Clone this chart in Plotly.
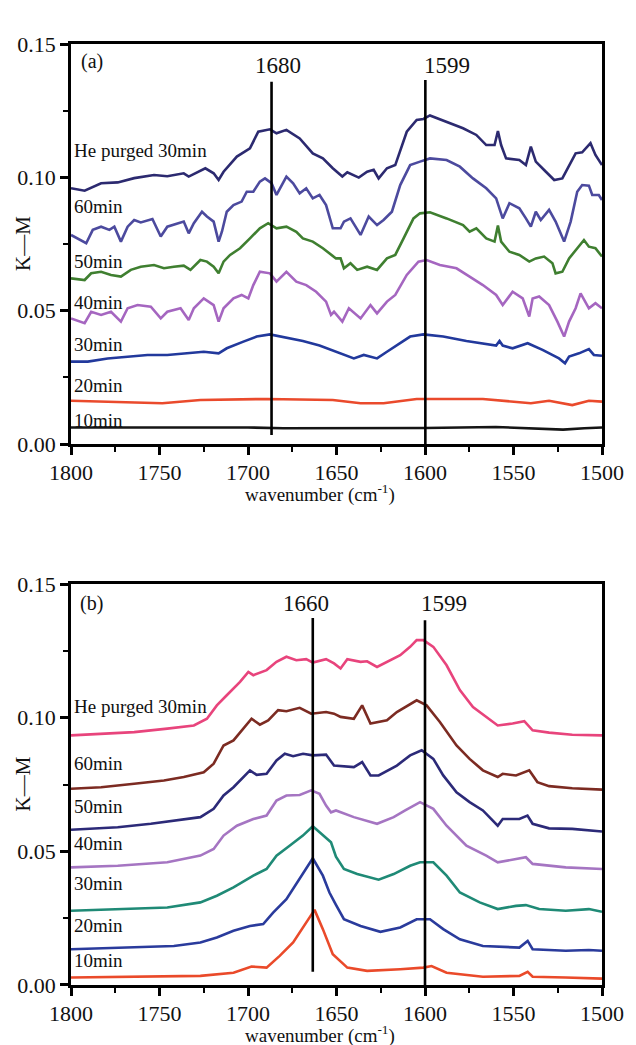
import plotly.graph_objects as go
from plotly.subplots import make_subplots

# ---------------- Panel (a) data ----------------
a_he_w = [1800, 1792.3, 1783.0, 1773.6, 1764.3, 1753.1, 1745.6, 1736.3, 1733.5, 1724.1, 1719.4, 1716.6, 1713.8,
          1706.3, 1698.9, 1694.2, 1687.6, 1683.9, 1678.3, 1670.8, 1663.4, 1657.7, 1652.1, 1646.7, 1643.9, 1637.4,
          1632.7, 1629.0, 1626.2, 1621.5, 1616.8, 1610.3, 1604.7, 1600.9, 1597.2, 1587.8, 1578.5, 1571.0, 1565.4,
          1560.7, 1558.8, 1557.0, 1554.2, 1546.7, 1543.0, 1540.2, 1537.4, 1531.7, 1527.0, 1522.4, 1518.6, 1514.9,
          1511.2, 1506.5, 1503.7, 1500.0]
a_he_k = [0.0959, 0.0950, 0.0978, 0.0981, 0.0997, 0.1009, 0.1004, 0.1015, 0.1003, 0.1034, 0.1015, 0.0990, 0.1021,
          0.1078, 0.1109, 0.1171, 0.1180, 0.1165, 0.1178, 0.1146, 0.1090, 0.1071, 0.1034, 0.1003, 0.1019, 0.0999,
          0.1021, 0.1028, 0.0996, 0.1034, 0.1046, 0.1171, 0.1215, 0.1219, 0.1232, 0.1209, 0.1184, 0.1159, 0.1121,
          0.1121, 0.1174, 0.1121, 0.1071, 0.1065, 0.1046, 0.1115, 0.1059, 0.1021, 0.0990, 0.0996, 0.1046, 0.1090,
          0.1094, 0.1128, 0.1084, 0.1046]

a_60_w = [1800, 1791.4, 1787.7, 1783.0, 1778.3, 1775.5, 1771.8, 1768.0, 1764.3, 1760.6, 1754.0, 1749.3, 1745.6,
          1740.0, 1736.3, 1733.5, 1730.6, 1726.0, 1723.2, 1719.4, 1716.6, 1714.7, 1712.0, 1708.2, 1703.6, 1700.7,
          1697.0, 1693.3, 1690.4, 1686.7, 1683.9, 1678.3, 1674.5, 1670.8, 1667.1, 1663.4, 1659.6, 1655.9, 1652.1,
          1647.7, 1645.8, 1642.1, 1636.4, 1631.8, 1627.1, 1623.4, 1618.7, 1614.0, 1608.4, 1602.8, 1597.2, 1587.8,
          1580.3, 1572.9, 1565.4, 1559.8, 1556.1, 1552.3, 1546.7, 1543.0, 1540.2, 1537.4, 1534.6, 1529.9, 1526.2,
          1521.4, 1517.7, 1514.0, 1511.2, 1507.4, 1505.5, 1501.8, 1500.0]
a_60_k = [0.0784, 0.0753, 0.0803, 0.0815, 0.0803, 0.0815, 0.0759, 0.0815, 0.0840, 0.0831, 0.0844, 0.0778, 0.0815,
          0.0828, 0.0834, 0.0790, 0.0828, 0.0871, 0.0853, 0.0834, 0.0759, 0.0797, 0.0871, 0.0896, 0.0909, 0.0946,
          0.0946, 0.0984, 0.0996, 0.0978, 0.0934, 0.1003, 0.0978, 0.0940, 0.0959, 0.0921, 0.0934, 0.0896, 0.0809,
          0.0809, 0.0834, 0.0846, 0.0784, 0.0853, 0.0821, 0.0840, 0.0871, 0.0971, 0.1046, 0.1059, 0.1071, 0.1065,
          0.1040, 0.0996, 0.0959, 0.0921, 0.0846, 0.0903, 0.0884, 0.0846, 0.0815, 0.0871, 0.0840, 0.0878, 0.0834,
          0.0759, 0.0834, 0.0946, 0.0971, 0.0969, 0.0934, 0.0934, 0.0915]

a_50_w = [1800, 1792.3, 1788.6, 1783.0, 1777.4, 1771.8, 1766.2, 1760.6, 1753.1, 1747.5, 1741.9, 1736.3, 1732.5,
          1726.9, 1723.2, 1719.4, 1716.6, 1713.8, 1710.1, 1704.5, 1698.9, 1693.3, 1688.6, 1683.9, 1678.3, 1672.7,
          1669.0, 1663.4, 1657.7, 1650.3, 1647.7, 1645.8, 1642.1, 1638.3, 1632.7, 1627.1, 1621.5, 1616.8, 1612.1,
          1606.5, 1602.8, 1597.2, 1587.8, 1578.5, 1574.8, 1571.0, 1565.4, 1560.7, 1558.8, 1557.0, 1552.3, 1546.7,
          1541.1, 1537.4, 1532.7, 1528.0, 1526.2, 1522.4, 1518.6, 1514.0, 1510.2, 1507.4, 1503.7, 1500.0]
a_50_k = [0.0621, 0.0615, 0.0640, 0.0646, 0.0634, 0.0628, 0.0653, 0.0665, 0.0671, 0.0659, 0.0665, 0.0669, 0.0653,
          0.0690, 0.0684, 0.0665, 0.0640, 0.0684, 0.0709, 0.0734, 0.0771, 0.0809, 0.0828, 0.0809, 0.0815, 0.0796,
          0.0771, 0.0759, 0.0734, 0.0696, 0.0696, 0.0659, 0.0678, 0.0653, 0.0665, 0.0653, 0.0696, 0.0709, 0.0771,
          0.0846, 0.0865, 0.0869, 0.0846, 0.0821, 0.0796, 0.0809, 0.0771, 0.0759, 0.0819, 0.0759, 0.0721, 0.0709,
          0.0684, 0.0696, 0.0703, 0.0678, 0.0640, 0.0646, 0.0696, 0.0734, 0.0765, 0.0740, 0.0734, 0.0703]

a_40_w = [1800, 1792.3, 1788.6, 1783.0, 1777.4, 1771.8, 1768.0, 1762.4, 1754.9, 1749.3, 1745.6, 1738.1, 1733.5,
          1730.6, 1725.0, 1719.4, 1716.6, 1713.8, 1708.2, 1703.6, 1699.8, 1697.0, 1693.3, 1687.6, 1683.9, 1678.3,
          1672.7, 1667.1, 1661.5, 1655.9, 1653.1, 1651.4, 1646.7, 1643.0, 1636.4, 1630.8, 1627.1, 1621.5, 1616.8,
          1610.3, 1603.7, 1599.1, 1591.6, 1582.2, 1574.8, 1567.3, 1559.8, 1556.1, 1550.5, 1544.8, 1541.1, 1539.2,
          1535.5, 1529.9, 1525.2, 1521.4, 1518.6, 1514.9, 1512.1, 1507.4, 1503.7, 1500.0]
a_40_k = [0.0471, 0.0453, 0.0496, 0.0484, 0.0496, 0.0459, 0.0509, 0.0521, 0.0515, 0.0471, 0.0496, 0.0509, 0.0465,
          0.0509, 0.0546, 0.0521, 0.0459, 0.0509, 0.0546, 0.0559, 0.0546, 0.0596, 0.0646, 0.0640, 0.0609, 0.0646,
          0.0609, 0.0596, 0.0571, 0.0534, 0.0484, 0.0496, 0.0459, 0.0509, 0.0471, 0.0521, 0.0490, 0.0534, 0.0559,
          0.0634, 0.0684, 0.0690, 0.0671, 0.0659, 0.0628, 0.0596, 0.0559, 0.0521, 0.0571, 0.0546, 0.0478, 0.0546,
          0.0553, 0.0521, 0.0459, 0.0403, 0.0459, 0.0509, 0.0565, 0.0509, 0.0528, 0.0509]

a_30_w = [1800, 1790.5, 1779.3, 1768.0, 1756.8, 1745.6, 1734.4, 1725.0, 1716.6, 1712.0, 1702.6, 1695.1, 1687.6,
          1678.3, 1669.0, 1659.6, 1652.1, 1645.8, 1640.2, 1634.6, 1627.1, 1621.5, 1615.9, 1608.4, 1600.9, 1589.7,
          1576.6, 1563.5, 1559.8, 1557.9, 1556.1, 1550.5, 1542.0, 1533.6, 1524.3, 1520.9, 1518.6, 1513.0, 1507.4,
          1504.6, 1500.0]
a_30_k = [0.0309, 0.0309, 0.0321, 0.0328, 0.0334, 0.0334, 0.0340, 0.0346, 0.0340, 0.0359, 0.0384, 0.0403, 0.0411,
          0.0399, 0.0386, 0.0369, 0.0350, 0.0336, 0.0321, 0.0334, 0.0321, 0.0346, 0.0371, 0.0403, 0.0411, 0.0403,
          0.0386, 0.0371, 0.0369, 0.0386, 0.0369, 0.0359, 0.0378, 0.0353, 0.0321, 0.0303, 0.0328, 0.0340, 0.0356,
          0.0334, 0.0331]

a_20_w = [1800, 1771.8, 1748.4, 1726.9, 1689.5, 1652.1, 1636.4, 1623.4, 1604.7, 1567.3, 1540.2, 1529.9, 1516.8,
          1507.4, 1500.0]
a_20_k = [0.0162, 0.0157, 0.0153, 0.0165, 0.0169, 0.0165, 0.0153, 0.0153, 0.0169, 0.0169, 0.0153, 0.0162, 0.0146,
          0.0162, 0.0159]

a_10_w = [1800, 1700, 1680, 1640, 1600, 1560, 1540, 1522, 1510, 1500]
a_10_k = [0.0062, 0.0062, 0.0059, 0.0059, 0.0060, 0.0064, 0.0060, 0.0054, 0.0059, 0.0062]

# ---------------- Panel (b) data ----------------
b_he_w = [1800, 1783.0, 1764.3, 1745.6, 1730.6, 1723.2, 1717.6, 1712.0, 1704.5, 1699.8, 1697.0, 1689.5, 1683.9,
          1678.3, 1672.7, 1667.1, 1663.4, 1655.9, 1651.4, 1647.7, 1643.9, 1636.4, 1632.7, 1627.1, 1621.5, 1614.0,
          1608.4, 1604.7, 1600.9, 1595.3, 1587.8, 1580.3, 1572.9, 1565.4, 1558.9, 1550.5, 1543.9, 1539.2, 1529.9,
          1516.8, 1500.0]
b_he_k = [0.0934, 0.0940, 0.0946, 0.0959, 0.0971, 0.0996, 0.1046, 0.1084, 0.1134, 0.1171, 0.1159, 0.1178, 0.1209,
          0.1228, 0.1215, 0.1219, 0.1206, 0.1219, 0.1203, 0.1184, 0.1219, 0.1209, 0.1211, 0.1190, 0.1209, 0.1234,
          0.1265, 0.1290, 0.1290, 0.1265, 0.1196, 0.1103, 0.1040, 0.1003, 0.0971, 0.0978, 0.0987, 0.0953, 0.0944,
          0.0936, 0.0934]

b_60_w = [1800, 1783.0, 1764.3, 1747.5, 1736.3, 1725.0, 1719.4, 1713.8, 1708.2, 1702.6, 1698.0, 1693.3, 1688.6,
          1683.0, 1678.3, 1670.8, 1664.3, 1655.9, 1651.4, 1647.7, 1640.2, 1635.5, 1630.8, 1621.5, 1615.9, 1604.7,
          1599.1, 1591.6, 1582.2, 1574.8, 1567.3, 1558.9, 1556.1, 1548.6, 1541.1, 1536.5, 1529.9, 1516.8, 1500.0]
b_60_k = [0.0734, 0.0740, 0.0753, 0.0765, 0.0778, 0.0796, 0.0828, 0.0896, 0.0915, 0.0959, 0.0996, 0.0974, 0.0990,
          0.1028, 0.1024, 0.1037, 0.1015, 0.1021, 0.1015, 0.1003, 0.0996, 0.1046, 0.0978, 0.0990, 0.1021, 0.1065,
          0.1046, 0.0984, 0.0896, 0.0846, 0.0803, 0.0778, 0.0790, 0.0784, 0.0803, 0.0759, 0.0744, 0.0736, 0.0731]

b_50_w = [1800, 1773.6, 1754.9, 1726.9, 1719.4, 1713.8, 1708.2, 1698.9, 1695.1, 1689.5, 1683.9, 1679.2, 1674.5,
          1668.9, 1663.4, 1655.9, 1651.4, 1640.2, 1635.5, 1630.8, 1626.2, 1615.9, 1608.4, 1601.9, 1595.3, 1589.7,
          1582.2, 1574.8, 1567.3, 1558.9, 1556.1, 1546.7, 1542.1, 1539.2, 1529.9, 1516.8, 1500.0]
b_50_k = [0.0581, 0.0590, 0.0603, 0.0628, 0.0659, 0.0709, 0.0740, 0.0803, 0.0786, 0.0790, 0.0840, 0.0865, 0.0856,
          0.0865, 0.0859, 0.0862, 0.0821, 0.0815, 0.0834, 0.0784, 0.0784, 0.0821, 0.0859, 0.0878, 0.0846, 0.0784,
          0.0721, 0.0684, 0.0653, 0.0596, 0.0621, 0.0621, 0.0634, 0.0603, 0.0586, 0.0584, 0.0574]

b_40_w = [1800, 1773.6, 1745.6, 1726.9, 1719.4, 1713.8, 1706.3, 1697.0, 1689.5, 1683.9, 1678.3, 1670.8, 1664.3,
          1659.6, 1655.9, 1653.1, 1650.3, 1640.2, 1627.1, 1617.7, 1611.2, 1602.8, 1595.3, 1587.8, 1576.6, 1565.4,
          1558.9, 1548.6, 1543.0, 1539.2, 1520.5, 1500.0]
b_40_k = [0.0440, 0.0446, 0.0459, 0.0484, 0.0509, 0.0559, 0.0596, 0.0621, 0.0634, 0.0690, 0.0709, 0.0711, 0.0728,
          0.0715, 0.0671, 0.0646, 0.0653, 0.0628, 0.0603, 0.0628, 0.0653, 0.0684, 0.0659, 0.0596, 0.0521, 0.0484,
          0.0459, 0.0471, 0.0478, 0.0453, 0.0440, 0.0434]

b_30_w = [1800, 1773.6, 1745.6, 1726.9, 1717.6, 1708.2, 1697.0, 1689.5, 1683.9, 1676.5, 1669.0, 1663.4, 1657.7,
          1653.1, 1650.3, 1645.8, 1638.3, 1626.2, 1617.7, 1608.4, 1602.8, 1595.3, 1587.8, 1580.3, 1569.1, 1558.9,
          1548.6, 1543.0, 1535.5, 1520.5, 1507.4, 1500.0]
b_30_k = [0.0278, 0.0284, 0.0290, 0.0309, 0.0334, 0.0365, 0.0409, 0.0434, 0.0484, 0.0521, 0.0559, 0.0594, 0.0559,
          0.0534, 0.0480, 0.0434, 0.0415, 0.0394, 0.0415, 0.0446, 0.0459, 0.0459, 0.0409, 0.0346, 0.0309, 0.0284,
          0.0296, 0.0299, 0.0284, 0.0278, 0.0284, 0.0274]

b_20_w = [1800, 1764.3, 1741.9, 1726.9, 1717.6, 1708.2, 1698.9, 1691.4, 1685.8, 1678.3, 1670.8, 1663.4, 1657.7,
          1654.0, 1650.3, 1645.8, 1636.4, 1625.2, 1614.0, 1604.7, 1597.2, 1589.7, 1580.3, 1567.3, 1546.7, 1542.0,
          1539.2, 1520.5, 1507.4, 1500.0]
b_20_k = [0.0134, 0.0140, 0.0146, 0.0159, 0.0178, 0.0203, 0.0221, 0.0228, 0.0271, 0.0321, 0.0396, 0.0474, 0.0409,
          0.0346, 0.0300, 0.0246, 0.0221, 0.0199, 0.0215, 0.0246, 0.0246, 0.0209, 0.0171, 0.0146, 0.0140, 0.0165,
          0.0134, 0.0128, 0.0131, 0.0128]

b_10_w = [1800, 1764.3, 1726.9, 1708.2, 1698.0, 1689.5, 1682.1, 1674.5, 1667.1, 1662.4, 1657.7, 1652.1, 1643.9,
          1632.7, 1614.0, 1600.9, 1596.3, 1587.8, 1567.3, 1546.7, 1542.0, 1539.2, 1520.5, 1500.0]
b_10_k = [0.0028, 0.0031, 0.0034, 0.0046, 0.0069, 0.0065, 0.0109, 0.0159, 0.0234, 0.0281, 0.0209, 0.0115, 0.0065,
          0.0053, 0.0059, 0.0065, 0.0071, 0.0046, 0.0031, 0.0034, 0.0049, 0.0031, 0.0028, 0.0024]

# series names / label positions
series_labels = ["He purged 30min", "60min", "50min", "40min", "30min", "20min", "10min"]
a_label_k = [0.1100, 0.0889, 0.0683, 0.0529, 0.0375, 0.0221, 0.0090]
b_label_k = [0.1040, 0.0830, 0.0669, 0.0531, 0.0381, 0.0224, 0.0090]

a_colors = ["#2c2a70", "#4c4a9e", "#3f7f30", "#a566c0", "#22399c", "#ea4a2c", "#151515"]
b_colors = ["#e8447c", "#7c2b22", "#2c2a78", "#a575c2", "#1f8a76", "#2a3b9c", "#ea4a2a"]

# marker lines: position, top, bottom, label, label x
a_peak_w = [1686.7, 1599.8]
a_peak_top = [0.1358, 0.1365]
a_peak_bot = [0.0034, 0.0]
a_peak_text = ["1680", "1599"]
a_peak_text_w = [1682.8, 1587.5]

b_peak_w = [1663.4, 1600.0]
b_peak_top = [0.1373, 0.1365]
b_peak_bot = [0.0050, 0.0]
b_peak_text = ["1660", "1599"]
b_peak_text_w = [1667.1, 1589.2]

x_ticks = [1800, 1750, 1700, 1650, 1600, 1550, 1500]
y_ticks = [0.00, 0.05, 0.10, 0.15]

SERIF = "Liberation Serif"
INK = "#111111"

fig = make_subplots(rows=2, cols=1, vertical_spacing=0.1489)

a_series = [(a_he_w, a_he_k), (a_60_w, a_60_k), (a_50_w, a_50_k), (a_40_w, a_40_k),
            (a_30_w, a_30_k), (a_20_w, a_20_k), (a_10_w, a_10_k)]
b_series = [(b_he_w, b_he_k), (b_60_w, b_60_k), (b_50_w, b_50_k), (b_40_w, b_40_k),
            (b_30_w, b_30_k), (b_20_w, b_20_k), (b_10_w, b_10_k)]

for row, series, colors in [(1, a_series, a_colors), (2, b_series, b_colors)]:
    for (w, k), c, name in zip(series, colors, series_labels):
        fig.add_trace(go.Scatter(x=w, y=k, mode="lines", name=name,
                                 line=dict(color=c, width=2.6), showlegend=False), row=row, col=1)

for row, pw, pt, pb in [(1, a_peak_w, a_peak_top, a_peak_bot), (2, b_peak_w, b_peak_top, b_peak_bot)]:
    for w, t, b in zip(pw, pt, pb):
        fig.add_trace(go.Scatter(x=[w, w], y=[b, t], mode="lines",
                                 line=dict(color="black", width=2.6), showlegend=False), row=row, col=1)

for xr, yr, lab_k, tag, ptxt, ptw, tag_k, ptxt_k in [
        ("x", "y", a_label_k, "(a)", a_peak_text, a_peak_text_w, 0.1433, 0.1421),
        ("x2", "y2", b_label_k, "(b)", b_peak_text, b_peak_text_w, 0.1429, 0.1429)]:
    for txt, k in zip(series_labels, lab_k):
        fig.add_annotation(x=1799.2, y=k, xref=xr, yref=yr, text=txt, showarrow=False,
                           xanchor="left", yanchor="middle",
                           font=dict(family=SERIF, size=19, color=INK))
    fig.add_annotation(x=1788.2, y=tag_k, xref=xr, yref=yr, text=tag, showarrow=False,
                       xanchor="center", yanchor="middle",
                       font=dict(family=SERIF, size=20, color=INK))
    for txt, w in zip(ptxt, ptw):
        fig.add_annotation(x=w, y=ptxt_k, xref=xr, yref=yr, text=txt, showarrow=False,
                           xanchor="center", yanchor="middle",
                           font=dict(family=SERIF, size=23, color=INK))

    # axis titles
    fig.add_annotation(x=0, y=0.5, xref=xr + " domain", yref=yr + " domain", xshift=-48,
                       text="K\u2014M", showarrow=False, textangle=-90,
                       xanchor="center", yanchor="middle",
                       font=dict(family=SERIF, size=21, color=INK))
    fig.add_annotation(x=0.5, y=0, xref=xr + " domain", yref=yr + " domain", xshift=-17, yshift=-49,
                       text="wavenumber (cm<sup>-1</sup>)", showarrow=False,
                       xanchor="center", yanchor="middle",
                       font=dict(family=SERIF, size=19, color=INK))

axis_common = dict(showline=True, linecolor="black", linewidth=2.6, mirror=True,
                   ticks="outside", ticklen=8, tickwidth=2.6, tickcolor="black",
                   showgrid=False, zeroline=False,
                   tickfont=dict(family=SERIF, size=22, color=INK))

for r in [1, 2]:
    fig.update_xaxes(range=[1800, 1500], tickvals=x_ticks, ticklabelstandoff=-1,
                     minor=dict(dtick=25, tick0=1500, ticks="outside", ticklen=5, tickwidth=2, tickcolor="black"),
                     row=r, col=1, **axis_common)
    fig.update_yaxes(range=[0, 0.15], tickvals=y_ticks, tickformat=".2f",
                     minor=dict(dtick=0.025, tick0=0, ticks="outside", ticklen=5, tickwidth=2, tickcolor="black"),
                     row=r, col=1, **axis_common)

fig.update_layout(width=636, height=1045, margin=dict(l=71, r=30, t=44, b=60),
                  plot_bgcolor="white", paper_bgcolor="white",
                  yaxis=dict(domain=[0.5749, 1.0]), yaxis2=dict(domain=[0.0, 0.4261]))

fig.write_html("out.html")
